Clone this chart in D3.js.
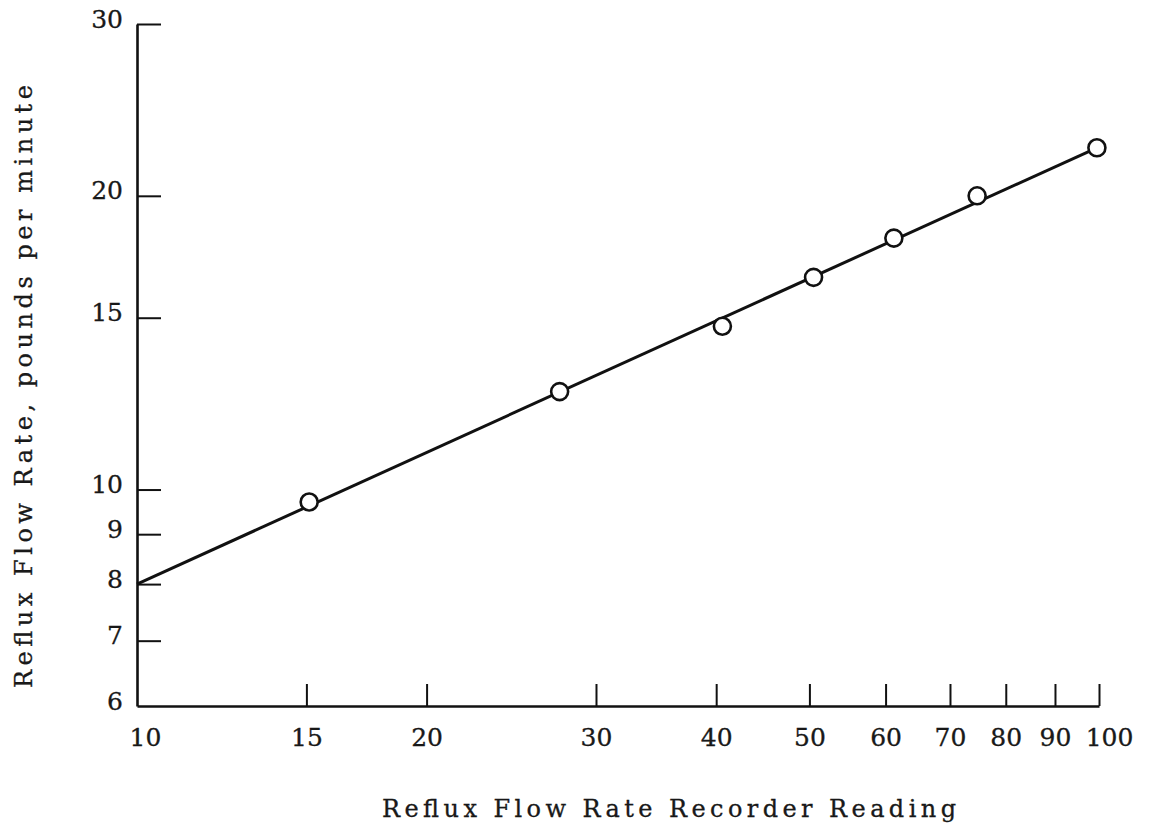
<!DOCTYPE html>
<html>
<head>
<meta charset="utf-8">
<script src="https://cdn.jsdelivr.net/npm/d3@7"></script>
<style>
  html, body { margin: 0; padding: 0; background: #fff; }
  svg { display: block; }
  text { font-family: "DejaVu Serif", "Liberation Serif", serif; fill: #1a1a1a; }
</style>
</head>
<body>
<svg id="chart" width="1151" height="833"></svg>
<script>
// ---- data ----
const recorderReading = [15.1, 27.5, 40.6, 50.5, 61.2, 74.7, 99.5];
const flowRate = [9.71, 12.6, 14.7, 16.5, 18.1, 20.0, 22.4];
const fitX = [10, 99.5];
const fitY = [8.0, 22.4];
const xTicks = [10, 15, 20, 30, 40, 50, 60, 70, 80, 90, 100];
const yTicks = [6, 7, 8, 9, 10, 15, 20, 30];
const xTitle = "Reflux Flow Rate Recorder Reading";
const yTitle = "Reflux Flow Rate, pounds per minute";

// ---- layout ----
const svg = d3.select("#chart");
const x = d3.scaleLog().domain([10, 100]).range([137, 1099]);
const y = d3.scaleLog().domain([6, 30]).range([706, 24]);
const ink = "#111";

// x axis (ticks pointing up, inside)
const xAxis = d3.axisBottom(x)
  .tickValues(xTicks)
  .tickSizeInner(-22)
  .tickSizeOuter(0)
  .tickFormat(d3.format("d"));
const gx = svg.append("g").attr("transform", `translate(0,${y(6)})`).call(xAxis);
gx.attr("font-family", null).attr("font-size", null);
gx.select(".domain").attr("stroke", ink).attr("stroke-width", 2.6);
gx.selectAll(".tick line").attr("stroke", ink).attr("stroke-width", 2)
  .filter(d => d === 10).remove();
gx.selectAll(".tick text")
  .attr("y", 40).attr("dy", 0)
  .style("font-size", "25px")
  .attr("fill", ink)
  .attr("stroke", ink).attr("stroke-width", 0.3)
  .attr("dx", d => d === 10 ? 8 : (d === 100 ? 10 : 0));

// y axis (ticks pointing right, inside)
const yAxis = d3.axisLeft(y)
  .tickValues(yTicks)
  .tickSizeInner(-24)
  .tickSizeOuter(0)
  .tickFormat(d3.format("d"));
const gy = svg.append("g").attr("transform", `translate(${x(10)},0)`).call(yAxis);
gy.attr("font-family", null).attr("font-size", null);
gy.select(".domain").attr("stroke", ink).attr("stroke-width", 2.6);
gy.selectAll(".tick line").attr("stroke", ink).attr("stroke-width", 2)
  .filter(d => d === 6).remove();
gy.selectAll(".tick text")
  .attr("x", -14).attr("dy", 0).attr("y", 3)
  .style("font-size", "25px")
  .attr("fill", ink)
  .attr("stroke", ink).attr("stroke-width", 0.3);

// fitted line
const line = d3.line().x(d => x(d[0])).y(d => y(d[1]));
svg.append("path")
  .datum(d3.zip(fitX, fitY))
  .attr("d", line)
  .attr("fill", "none")
  .attr("stroke", ink)
  .attr("stroke-width", 3);

// data points
svg.append("g").selectAll("circle")
  .data(d3.zip(recorderReading, flowRate))
  .join("circle")
  .attr("cx", d => x(d[0]))
  .attr("cy", d => y(d[1]))
  .attr("r", 8.5)
  .attr("fill", "#fff")
  .attr("stroke", ink)
  .attr("stroke-width", 2.6);

// titles
svg.append("text")
  .attr("x", 382).attr("y", 817)
  .attr("textLength", 574)
  .attr("lengthAdjust", "spacing")
  .style("font-size", "24px")
  .attr("stroke", ink).attr("stroke-width", 0.3)
  .text(xTitle);

svg.append("text")
  .attr("transform", "translate(32,688) rotate(-90)")
  .attr("textLength", 603)
  .attr("lengthAdjust", "spacing")
  .style("font-size", "24px")
  .attr("stroke", ink).attr("stroke-width", 0.3)
  .text(yTitle);
</script>
</body>
</html>
